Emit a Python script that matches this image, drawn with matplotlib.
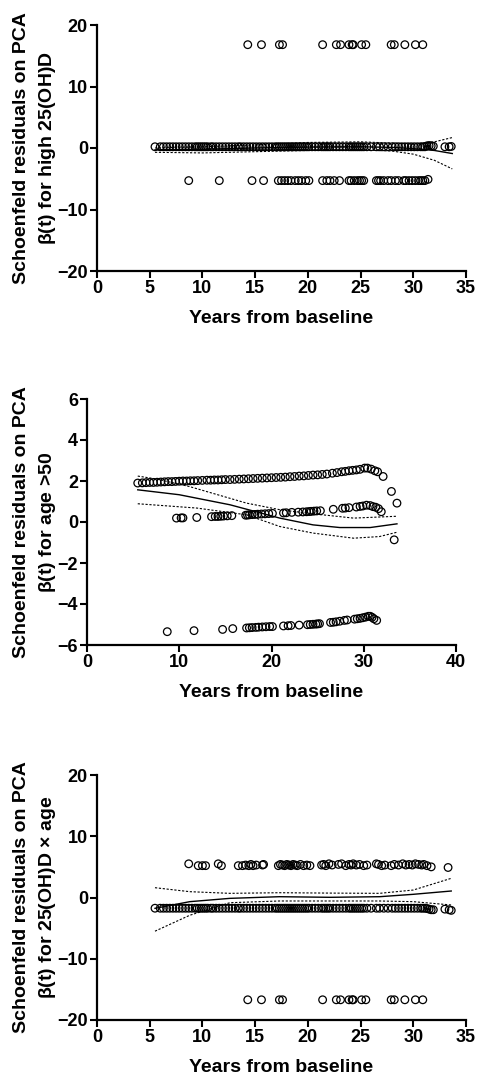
import matplotlib
matplotlib.use("Agg")
import matplotlib.pyplot as plt

plt.rcParams["font.family"] = ["Liberation Sans", "DejaVu Sans"]
plt.rcParams["font.weight"] = "bold"
plt.rcParams["mathtext.fontset"] = "custom"
plt.rcParams["mathtext.rm"] = "Liberation Sans"

# ---- panel 1: high 25(OH)D ----
p1_top_x = [14.3, 15.6, 17.3, 17.6, 21.4, 22.7, 23.1, 23.9, 24.2, 24.3, 25.1, 25.5,
            27.9, 28.2, 29.2, 30.2, 30.9]
p1_top_y = [16.8] * len(p1_top_x)
p1_bot_x = [8.7, 11.6, 14.7, 15.8, 17.2, 17.5, 17.8, 18.1, 18.4, 18.8, 19.1, 19.4, 19.8,
            20.1, 21.4, 21.8, 22.1, 22.5, 23.0, 23.9, 24.1, 24.4, 24.7, 24.9, 25.1, 25.3,
            26.5, 26.7, 26.9, 27.2, 27.6, 27.9, 28.3, 28.6, 29.1, 29.3, 29.6, 29.9, 30.2,
            30.5, 30.7, 30.9, 31.1, 31.4]
p1_bot_y = [-5.3] * (len(p1_bot_x) - 1) + [-5.1]
p1_mid_x = [5.5, 6.0, 6.3, 6.6, 6.9, 7.2, 7.5, 7.8, 8.1, 8.4, 8.7, 9.0, 9.3, 9.5, 9.7, 9.9,
            10.1, 10.3, 10.5, 10.8, 11.0, 11.3, 11.6, 11.9, 12.2, 12.5, 12.8, 13.1, 13.4,
            13.6, 13.9, 14.2, 14.5, 14.8, 15.1, 15.4, 15.7, 16.0, 16.3, 16.6, 16.9, 17.1,
            17.3, 17.5, 17.7, 17.9, 18.1, 18.3, 18.5, 18.7, 18.9, 19.1, 19.3, 19.5, 19.7,
            19.9, 20.1, 20.4, 20.7, 21.0, 21.3, 21.5, 21.7, 21.9, 22.1, 22.4, 22.7, 23.0,
            23.3, 23.6, 23.9, 24.1, 24.3, 24.5, 24.7, 24.9, 25.1, 25.3, 25.6, 26.0, 26.5,
            26.8, 27.2, 27.6, 28.0, 28.3, 28.6, 28.9, 29.2, 29.5, 29.8, 30.1, 30.4, 30.7,
            30.9, 31.1, 31.3, 31.5, 31.7, 31.9, 33.0, 33.4, 33.6]
p1_mid_y = [0.2] * (len(p1_mid_x) - 7) + [0.35, 0.4, 0.35, 0.3, 0.2, 0.2, 0.25]
p1_fit_x = [5.5, 10, 15, 20, 25, 28, 30, 32, 33.7]
p1_fit = [-0.3, -0.2, 0.0, 0.15, 0.2, 0.1, -0.1, -0.4, -0.9]
p1_hi = [0.0, 0.2, 0.5, 0.9, 1.0, 0.8, 0.6, 1.0, 1.7]
p1_lo = [-0.7, -0.8, -0.6, -0.4, -0.3, -0.5, -1.0, -2.0, -3.4]

# ---- panel 2: age > 50 ----
p2_top_x = [5.5, 6.0, 6.4, 6.8, 7.2, 7.6, 8.0, 8.4, 8.8, 9.2, 9.6, 10.0, 10.4, 10.8, 11.2,
            11.6, 12.0, 12.5, 13.0, 13.4, 13.8, 14.2, 14.6, 15.0, 15.5, 16.0, 16.5, 17.0,
            17.5, 18.0, 18.5, 19.0, 19.5, 20.0, 20.5, 21.0, 21.5, 22.0, 22.5, 23.0, 23.5,
            24.0, 24.5, 25.0, 25.5, 26.0, 26.6, 27.1, 27.6, 28.0, 28.4, 28.8, 29.2, 29.6,
            30.1, 30.4, 30.8, 31.2, 31.5, 32.1, 33.0, 33.6, 33.3]
p2_top_y = [1.90, 1.91, 1.92, 1.93, 1.93, 1.94, 1.95, 1.96, 1.97, 1.97, 1.98, 1.99, 2.00,
            2.00, 2.01, 2.01, 2.02, 2.03, 2.04, 2.04, 2.05, 2.05, 2.06, 2.07, 2.07, 2.08,
            2.09, 2.10, 2.11, 2.12, 2.13, 2.14, 2.15, 2.16, 2.17, 2.18, 2.19, 2.21, 2.22,
            2.24, 2.25, 2.27, 2.29, 2.30, 2.32, 2.34, 2.38, 2.41, 2.45, 2.47, 2.50, 2.52,
            2.54, 2.57, 2.63, 2.63, 2.58, 2.50, 2.45, 2.22, 1.49, 0.92, -0.87]
p2_mid_x = [9.7, 10.2, 10.4, 11.9, 13.5, 13.9, 14.2, 14.5, 14.8, 15.2, 15.7, 17.2, 17.4,
            17.6, 17.9, 18.2, 18.5, 18.9, 19.3, 19.7, 20.1, 21.3, 21.6, 22.2, 22.9, 23.4,
            23.8, 24.1, 24.3, 24.6, 24.9, 25.3, 26.7, 27.7, 28.0, 28.4, 29.2, 29.6, 29.9,
            30.3, 30.7, 31.0, 31.3, 31.6, 31.9]
p2_mid_y = [0.19, 0.20, 0.20, 0.22, 0.26, 0.27, 0.27, 0.28, 0.29, 0.30, 0.31, 0.33, 0.34,
            0.35, 0.36, 0.37, 0.38, 0.39, 0.40, 0.41, 0.42, 0.44, 0.45, 0.47, 0.48, 0.49,
            0.50, 0.51, 0.52, 0.53, 0.54, 0.55, 0.62, 0.67, 0.68, 0.70, 0.73, 0.76, 0.78,
            0.82, 0.80, 0.75, 0.72, 0.65, 0.50]
p2_bot_x = [8.7, 11.6, 14.7, 15.8, 17.3, 17.6, 17.9, 18.3, 18.6, 19.0, 19.4, 19.8, 20.1,
            21.3, 21.8, 22.1, 23.0, 23.9, 24.2, 24.5, 24.8, 25.0, 25.2, 26.4, 26.7, 27.0,
            27.4, 27.9, 28.2, 29.0, 29.3, 29.6, 29.9, 30.2, 30.5, 30.7, 30.9, 31.1, 31.4]
p2_bot_y = [-5.35, -5.30, -5.24, -5.20, -5.17, -5.16, -5.15, -5.14, -5.13, -5.12, -5.11,
            -5.10, -5.10, -5.07, -5.06, -5.05, -5.03, -5.01, -5.00, -4.99, -4.98, -4.97,
            -4.96, -4.90, -4.89, -4.87, -4.84, -4.80, -4.78, -4.74, -4.72, -4.70, -4.67,
            -4.64, -4.60, -4.60, -4.65, -4.72, -4.80]
p2_fit_x = [5.5, 10.0, 15.5, 20.9, 24.5, 27.4, 30.7, 33.6]
p2_fit = [1.57, 1.33, 0.84, 0.19, -0.14, -0.27, -0.27, -0.09]
p2_hi_x = [5.5, 7.5, 11.1, 17.3, 20.9, 24.5, 28.9, 33.6]
p2_hi = [2.24, 2.1, 1.73, 0.92, 0.6, 0.4, 0.19, 0.28]
p2_lo_x = [5.5, 11.9, 17.3, 20.9, 24.5, 28.9, 31.7, 33.6]
p2_lo = [0.89, 0.68, 0.35, -0.22, -0.54, -0.79, -0.71, -0.5]

# ---- panel 3: 25(OH)D x age ----
p3_top_x = [8.7, 9.6, 10.0, 10.3, 11.5, 11.8, 13.4, 13.8, 14.1, 14.4, 14.6, 14.8, 15.1,
            15.7, 15.8, 17.2, 17.4, 17.6, 17.8, 18.0, 18.2, 18.4, 18.6, 18.8, 19.0, 19.3,
            19.6, 19.9, 20.2, 21.3, 21.5, 21.7, 22.0, 22.3, 22.9, 23.2, 23.6, 23.9, 24.1,
            24.3, 24.6, 24.9, 25.3, 25.6, 26.5, 26.7, 27.0, 27.3, 27.9, 28.2, 28.6, 29.0,
            29.3, 29.6, 29.9, 30.2, 30.5, 30.8, 31.0, 31.3, 31.7, 33.3]
p3_top_y = [5.5, 5.2, 5.2, 5.2, 5.5, 5.2, 5.2, 5.2, 5.3, 5.2, 5.4, 5.2, 5.3, 5.3, 5.4,
            5.2, 5.4, 5.3, 5.2, 5.4, 5.3, 5.2, 5.4, 5.3, 5.2, 5.4, 5.2, 5.3, 5.2, 5.3,
            5.4, 5.2, 5.5, 5.3, 5.4, 5.5, 5.2, 5.4, 5.3, 5.5, 5.3, 5.4, 5.2, 5.3, 5.5,
            5.4, 5.2, 5.3, 5.2, 5.4, 5.3, 5.5, 5.3, 5.4, 5.3, 5.5, 5.4, 5.3, 5.4, 5.2,
            5.0, 4.9]
p3_mid_x = p1_mid_x
p3_mid_y = [-1.75] * (len(p3_mid_x) - 7) + [-1.8, -1.9, -2.0, -2.0, -1.9, -2.0, -2.1]
p3_bot_x = p1_top_x
p3_bot_y = [-16.7] * len(p3_bot_x)
p3_fit_x = [5.5, 8.8, 12.6, 17.3, 22.1, 26.8, 30.0, 33.6]
p3_fit = [-1.77, -0.68, -0.14, 0.13, 0.03, 0.13, 0.52, 1.06]
p3_hi = [1.6, 0.95, 0.68, 0.78, 0.72, 0.68, 1.22, 3.13]
p3_lo = [-5.5, -2.9, -0.85, -0.57, -0.57, -0.57, -0.68, -1.22]

W, H = 478, 1077
fig = plt.figure(figsize=(W / 100, H / 100), dpi=100)


def make_axes(left, top, right, bottom):
    return fig.add_axes([left / W, 1 - bottom / H, (right - left) / W, (bottom - top) / H])


def style(ax, xmax, xstep, ylim, ystep):
    ax.set_xlim(0, xmax)
    ax.set_ylim(*ylim)
    ax.set_xticks(range(0, xmax + 1, xstep))
    ax.set_yticks(range(ylim[0], ylim[1] + 1, ystep))
    for s in ["top", "right"]:
        ax.spines[s].set_visible(False)
    for s in ["left", "bottom"]:
        ax.spines[s].set_linewidth(1.6)
    ax.tick_params(direction="out", length=5, width=1.5, labelsize=13, pad=1.5)
    for lab in ax.get_xticklabels() + ax.get_yticklabels():
        lab.set_fontweight("bold")
    ax.set_xlabel("Years from baseline", fontsize=14, fontweight="bold", labelpad=9)


def points(ax, x, y):
    ax.scatter(x, y, s=30, facecolors="none", edgecolors="black", linewidths=0.9,
               clip_on=False, zorder=3)


def curves(ax, x, fit, hi, lo, xhi=None, xlo=None):
    ax.plot(x, fit, color="black", lw=1.0, zorder=4)
    dash = (0, (2.0, 1.5))
    ax.plot(xhi if xhi else x, hi, color="black", lw=0.8, linestyle=dash, zorder=4)
    ax.plot(xlo if xlo else x, lo, color="black", lw=0.8, linestyle=dash, zorder=4)


def ylabel(yc, x1, x2, second):
    fig.text(x1 / W, 1 - yc / H, "Schoenfeld residuals on PCA", rotation=90,
             ha="center", va="center", fontsize=14, fontweight="bold")
    fig.text(x2 / W, 1 - yc / H, second, rotation=90,
             ha="center", va="center", fontsize=14, fontweight="bold")


ax1 = make_axes(97, 25, 466, 271)
style(ax1, 35, 5, (-20, 20), 10)
points(ax1, p1_top_x, p1_top_y)
points(ax1, p1_bot_x, p1_bot_y)
points(ax1, p1_mid_x, p1_mid_y)
curves(ax1, p1_fit_x, p1_fit, p1_hi, p1_lo)
ylabel(148, 22, 48, r"$\mathrm{\beta(t)}$ for high 25(OH)D")

ax2 = make_axes(87, 399, 456, 645)
style(ax2, 40, 10, (-6, 6), 2)
points(ax2, p2_top_x, p2_top_y)
points(ax2, p2_mid_x, p2_mid_y)
points(ax2, p2_bot_x, p2_bot_y)
curves(ax2, p2_fit_x, p2_fit, p2_hi, p2_lo, p2_hi_x, p2_lo_x)
ylabel(522, 22, 47, r"$\mathrm{\beta(t)}$ for age >50")

ax3 = make_axes(97, 775, 466, 1020)
style(ax3, 35, 5, (-20, 20), 10)
points(ax3, p3_top_x, p3_top_y)
points(ax3, p3_mid_x, p3_mid_y)
points(ax3, p3_bot_x, p3_bot_y)
curves(ax3, p3_fit_x, p3_fit, p3_hi, p3_lo)
ylabel(897, 22, 48, r"$\mathrm{\beta(t)}$ for 25(OH)D $\mathrm{\times}$ age")

fig.savefig("out.png", dpi=100)
